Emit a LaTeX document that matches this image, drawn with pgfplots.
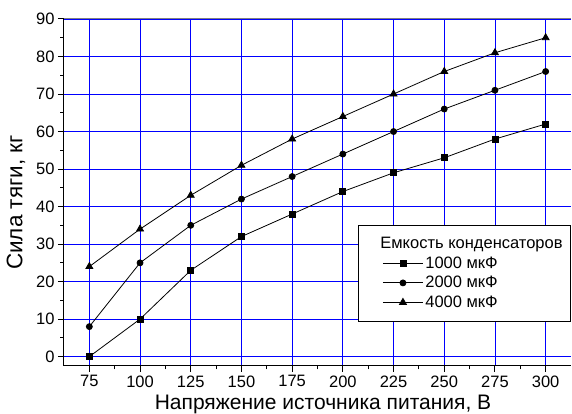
\documentclass[border=0pt]{standalone}
\usepackage{fontspec}
\setmainfont{Liberation Sans}
\usepackage{pgfplots}
\pgfplotsset{compat=1.18}
\begin{document}
\begin{tikzpicture}
\useasboundingbox (-64pt,-48pt) rectangle (508pt,366pt);
\begin{axis}[
  at={(0pt,0pt)}, anchor=south west,
  scale only axis, width=507pt, height=347pt,
  xmin=62.5, xmax=312.5, ymin=-2.5, ymax=90,
  xtick={75,100,...,300}, ytick={0,10,...,90},
  minor x tick num=1, minor y tick num=1,
  axis x line*=bottom, axis y line*=left,
  axis line style={black, line width=1pt, -},
  tick align=outside, major tick length=6pt, minor tick length=3.5pt,
  every tick/.style={black, line width=1pt},
  grid=major, major grid style={blue, line width=0.9pt},
  /pgf/number format/assume math mode=true,
  tick label style={font=\fontsize{16.5}{18}\selectfont},
  xlabel={Напряжение источника питания, В},
  ylabel={Сила тяги, кг},
  xlabel style={font=\fontsize{21}{23}\selectfont, at={(rel axis cs:0.5,0)}, anchor=base, yshift=-43pt, xshift=5.5pt},
  ylabel style={font=\fontsize{22.5}{24}\selectfont, at={(rel axis cs:0,0.471)}, anchor=center, yshift=48pt},
  legend style={at={(rel axis cs:1,0.406)}, anchor=north east, draw=black, line width=0.8pt,
    font=\fontsize{16.5}{18.5}\selectfont, row sep=2.5pt, column sep=0pt, inner xsep=6pt, inner ysep=10pt},
  legend cell align=left,
  legend image code/.code={\path (0pt,0pt); \draw[mark repeat=2,mark phase=2,#1] plot coordinates {(18pt,0pt)(38pt,0pt)(58pt,0pt)};},
]
\draw[gray, line width=1pt] (rel axis cs:0,1) -- (rel axis cs:1,1);
\addlegendimage{empty legend}
\addlegendentry{\hspace{-45pt}Емкость конденсаторов\hspace{-8pt}}
\addplot[black, line width=0.8pt, mark=square*, mark size=3pt, mark options={solid}] coordinates {
(75,0) (100,10) (125,23) (150,32) (175,38) (200,44) (225,49) (250,53) (275,58) (300,62)};
\addlegendentry{1000 мкФ}
\addplot[black, line width=0.8pt, mark=*, mark size=3pt, mark options={solid}] coordinates {
(75,8) (100,25) (125,35) (150,42) (175,48) (200,54) (225,60) (250,66) (275,71) (300,76)};
\addlegendentry{2000 мкФ}
\addplot[black, line width=0.8pt, mark=triangle*, mark size=4pt, mark options={solid}] coordinates {
(75,24) (100,34) (125,43) (150,51) (175,58) (200,64) (225,70) (250,76) (275,81) (300,85)};
\addlegendentry{4000 мкФ}
\end{axis}
\end{tikzpicture}
\end{document}
